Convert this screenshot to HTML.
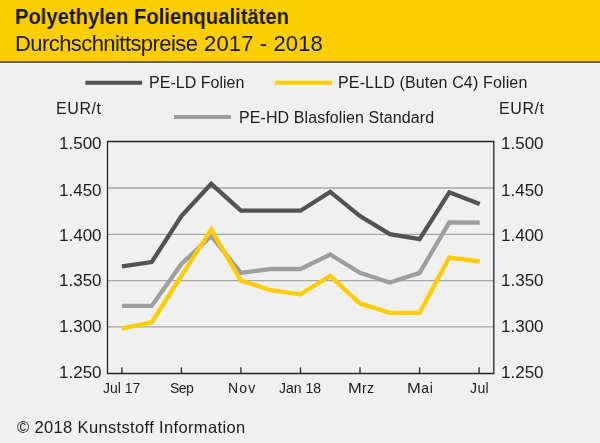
<!DOCTYPE html>
<html><head><meta charset="utf-8">
<style>
html,body{margin:0;padding:0;}
body{width:600px;height:443px;overflow:hidden;position:relative;background:#eff0ef;font-family:"Liberation Sans",sans-serif;color:#222;}
#hdr{position:absolute;left:0;top:0;width:600px;height:61px;background:#ffce00;border-bottom:2px solid #666666;box-sizing:content-box;}
.t{position:absolute;white-space:nowrap;line-height:1;will-change:transform;}
#t1{left:14.5px;top:5.5px;font-size:22px;font-weight:bold;color:#1a1a1a;transform:scaleX(0.919);transform-origin:0 0;}
.t2{top:32.5px;font-size:22px;color:#1a1a1a;}
.lg{font-size:16px;color:#1c1c1c;}
.ax{font-size:17px;color:#1c1c1c;}
.eu{font-size:16px;color:#1c1c1c;letter-spacing:0.58px;}
.ft{font-size:16.5px;color:#1c1c1c;}
.xl{font-size:14px;color:#1c1c1c;}
svg{position:absolute;left:0;top:0;}
</style></head><body>
<div id="hdr"></div>
<div class="t" id="t1">Polyethylen Folienqualitäten</div>
<div class="t t2" id="t2a" style="left:15px;letter-spacing:-0.57px;">Durchschnittspreise</div>
<div class="t t2" id="t2b" style="left:204.1px;letter-spacing:0.14px;">2017 - 2018</div>

<svg width="600" height="443" viewBox="0 0 600 443">
  <!-- legend lines -->
  <line x1="85.3" y1="82.8" x2="142.1" y2="82.8" stroke="#535356" stroke-width="4"/>
  <line x1="275.2" y1="82.8" x2="332" y2="82.8" stroke="#ffcc00" stroke-width="4"/>
  <line x1="174" y1="117" x2="231" y2="117" stroke="#9e9e9e" stroke-width="4"/>
  <!-- gridlines -->
  <g stroke="#a6a7a6" stroke-width="1.3">
    <line x1="107" y1="188" x2="493.8" y2="188"/>
    <line x1="107" y1="234.3" x2="493.8" y2="234.3"/>
    <line x1="107" y1="280.6" x2="493.8" y2="280.6"/>
    <line x1="107" y1="326.9" x2="493.8" y2="326.9"/>
  </g>
  <!-- frame -->
  <path d="M107.5 373.5 V141.5 H493.8 V373.5 Z" fill="none" stroke="#262626" stroke-width="1.3"/>
  <!-- ticks -->
  <g stroke="#262626" stroke-width="1.3">
    <line x1="121.9" y1="367.3" x2="121.9" y2="373.5"/>
    <line x1="181.4" y1="367.3" x2="181.4" y2="373.5"/>
    <line x1="240.9" y1="367.3" x2="240.9" y2="373.5"/>
    <line x1="300.5" y1="367.3" x2="300.5" y2="373.5"/>
    <line x1="360" y1="367.3" x2="360" y2="373.5"/>
    <line x1="419.6" y1="367.3" x2="419.6" y2="373.5"/>
    <line x1="479.1" y1="367.3" x2="479.1" y2="373.5"/>
  </g>
  <!-- series -->
  <polyline fill="none" stroke="#9e9e9e" stroke-width="4.3" stroke-linejoin="miter"
    points="121.9,305.9 151.7,305.9 181.4,264 211.2,236 240.9,272.9 270.7,269 300.5,269 330.2,254.5 360,272.9 389.8,282.5 419.6,272.9 449.3,222.5 479.7,222.6"/>
  <polyline fill="none" stroke="#535356" stroke-width="4.3" stroke-linejoin="miter"
    points="121.9,266.4 151.7,262.1 181.4,216 211.2,183.8 240.9,210.7 270.7,210.7 300.5,210.7 330.2,191.9 360,216.1 389.8,234.1 419.6,239.1 449.3,192.3 479.7,204"/>
  <polyline fill="none" stroke="#ffcc00" stroke-width="4.3" stroke-linejoin="miter"
    points="121.9,328.7 151.7,322.4 181.4,276 211.2,229.5 240.9,280.6 270.7,290.2 300.5,294.3 330.2,276 360,303.6 389.8,312.8 419.6,312.8 449.3,257.5 479.7,261.5"/>
</svg>

<div class="t lg" id="lg1" style="left:149.1px;top:75px;letter-spacing:0.02px;">PE-LD Folien</div>
<div class="t lg" id="lg2" style="left:338px;top:75px;letter-spacing:0.15px;">PE-LLD (Buten C4) Folien</div>
<div class="t lg" id="lg3" style="left:239.2px;top:110px;letter-spacing:0.09px;">PE-HD Blasfolien Standard</div>

<div class="t eu" id="eurl" style="left:56px;top:101px;">EUR/t</div>
<div class="t eu" id="eurr" style="left:499.3px;top:101px;">EUR/t</div>

<div class="t ax" id="yl0" style="left:59px;top:134.9px;">1.500</div>
<div class="t ax" style="left:59px;top:181.5px;">1.450</div>
<div class="t ax" style="left:59px;top:227.3px;">1.400</div>
<div class="t ax" style="left:59px;top:271.5px;">1.350</div>
<div class="t ax" style="left:59px;top:317.6px;">1.300</div>
<div class="t ax" style="left:59px;top:363.7px;">1.250</div>

<div class="t ax" id="yr0" style="left:501px;top:134.9px;">1.500</div>
<div class="t ax" style="left:501px;top:181.5px;">1.450</div>
<div class="t ax" style="left:501px;top:227.3px;">1.400</div>
<div class="t ax" style="left:501px;top:271.5px;">1.350</div>
<div class="t ax" style="left:501px;top:317.6px;">1.300</div>
<div class="t ax" style="left:501px;top:363.7px;">1.250</div>


<div class="t xl" id="x0" style="left:103.4px;top:381px;letter-spacing:0px;">Jul 17</div>
<div class="t xl" id="x1" style="left:170.3px;top:381px;letter-spacing:-0.55px;">Sep</div>
<div class="t xl" id="x2" style="left:227.5px;top:381px;letter-spacing:1.2px;">Nov</div>
<div class="t xl" id="x3" style="left:279.3px;top:381px;letter-spacing:0px;">Jan 18</div>
<div class="t xl" id="x4" style="left:347.6px;top:381px;letter-spacing:0.3px;"><span style="display:inline-block;transform:scaleX(1.18);transform-origin:0 0;margin-right:2.1px">M</span>rz</div>
<div class="t xl" id="x5" style="left:406.6px;top:381px;letter-spacing:0.6px;"><span style="display:inline-block;transform:scaleX(1.18);transform-origin:0 0;margin-right:2.1px">M</span>ai</div>
<div class="t xl" id="x6" style="left:470.3px;top:381px;letter-spacing:0.4px;">Jul</div>

<div class="t ft" id="foot" style="left:16.5px;top:419px;letter-spacing:0.355px;">© 2018 Kunststoff Information</div>
</body></html>
